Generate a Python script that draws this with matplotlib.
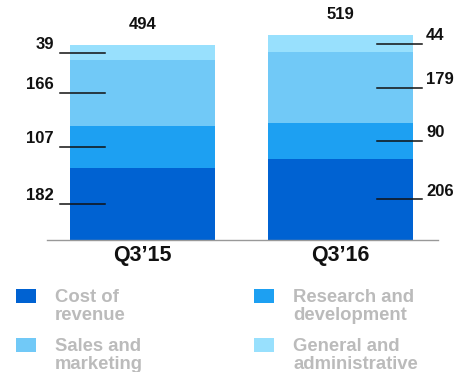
import matplotlib.pyplot as plt
from matplotlib.patches import Rectangle

plt.rcParams['font.family'] = ['Liberation Sans', 'DejaVu Sans']

quarters = ['Q3\u201915', 'Q3\u201916']
cost_of_revenue = [182, 206]
research_dev = [107, 90]
sales_marketing = [166, 179]
general_admin = [39, 44]
totals = [494, 519]

series = [cost_of_revenue, research_dev, sales_marketing, general_admin]
names = ['Cost of\nrevenue', 'Research and\ndevelopment', 'Sales and\nmarketing', 'General and\nadministrative']
colors = ['#0062D2', '#1DA0F2', '#71C9F7', '#98E0FD']

W, H = 466, 372
fig = plt.figure(figsize=(W / 100, H / 100), dpi=100)
ax = fig.add_axes([0, 132 / H, 1, 237 / H])
ax.set_xlim(-0.7197, 1.634)
ax.set_ylim(0, 600)
ax.axis('off')

x = [0, 1]
bottoms = [0, 0]
for vals, c in zip(series, colors):
    ax.bar(x, vals, width=0.732, bottom=bottoms, color=c, linewidth=0)
    for i in range(2):
        mid = bottoms[i] + vals[i] / 2
        if i == 0:
            ax.plot([-0.417, -0.189], [mid, mid], color='#111111', lw=1.1, clip_on=False)
            ax.text(-0.447, mid + 2, str(vals[i]), ha='right', va='bottom', fontsize=12,
                    fontweight='bold', color='#111111')
        else:
            ax.plot([1.184, 1.412], [mid, mid], color='#111111', lw=1.1, clip_on=False)
            ax.text(1.432, mid + 2, str(vals[i]), ha='left', va='bottom', fontsize=12,
                    fontweight='bold', color='#111111')
    bottoms = [b + v for b, v in zip(bottoms, vals)]

for i in range(2):
    ax.text(x[i], totals[i] + 32, str(totals[i]), ha='center', va='bottom', fontsize=12,
            fontweight='bold', color='#111111')
    ax.text(x[i], -38, quarters[i], ha='center', va='center', fontsize=15.5,
            fontweight='bold', color='#111111', clip_on=False)

ax.plot([-0.482, 1.492], [0, 0], color='#999999', lw=1, clip_on=False)

# legend
pos = [(16, 289), (254, 289), (16, 338), (254, 338)]
for k, (px, py) in enumerate(pos):
    fig.add_artist(Rectangle((px / W, 1 - (py + 14) / H), 20 / W, 14 / H,
                             transform=fig.transFigure, color=colors[k], lw=0))
    fig.text((px + 39) / W, 1 - py / H, names[k], ha='left', va='top', fontsize=13.3,
             fontweight='bold', color='#BBBBBB', linespacing=1.05)

fig.savefig('out.png', dpi=100)
